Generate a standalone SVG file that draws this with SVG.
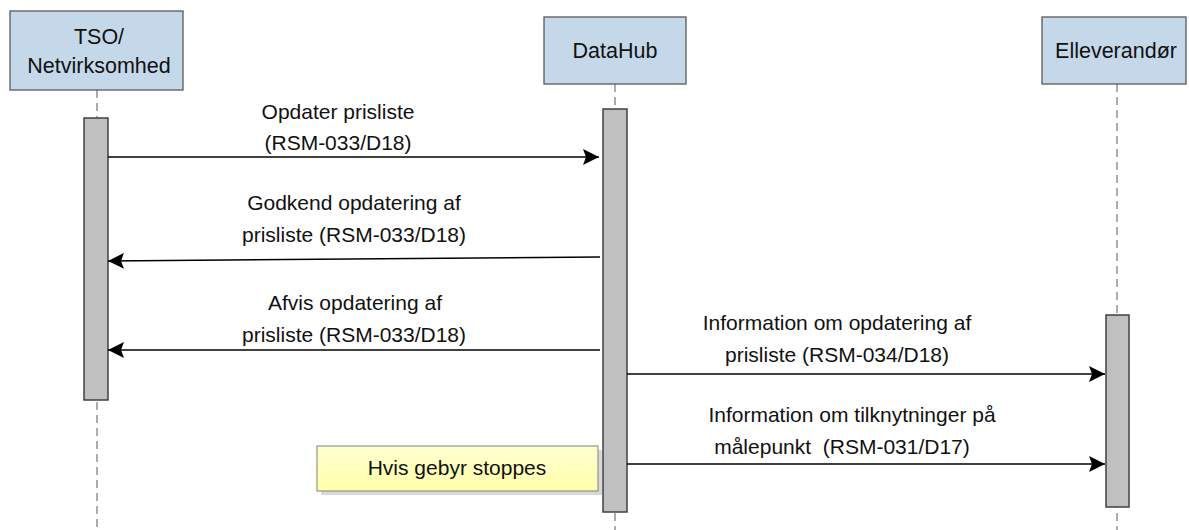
<svg xmlns="http://www.w3.org/2000/svg" width="1189" height="530" viewBox="0 0 1189 530">
<style>
.actor{fill:#c5d8ea;stroke:#595959;stroke-width:1.3}
.life{stroke:#808080;stroke-width:1.3;stroke-dasharray:8 5;fill:none}
.act{fill:#c0c0c0;stroke:#404040;stroke-width:1.5}
.msg{stroke:#000;stroke-width:1.6;fill:none;marker-end:url(#ah)}
text{font-family:"Liberation Sans",Arial,sans-serif;font-size:21px;fill:#111;text-anchor:middle}
.big{font-size:21.5px}
</style>
<defs>
<marker id="ah" markerWidth="18" markerHeight="16" refX="16" refY="8" orient="auto" markerUnits="userSpaceOnUse">
<path d="M0,0 L16,8 L0,16 L3,8 Z" fill="#000"/>
</marker>
<linearGradient id="ny" x1="0" y1="0" x2="0" y2="1">
<stop offset="0" stop-color="#ffffd2"/>
<stop offset="1" stop-color="#ffffa8"/>
</linearGradient>
</defs>
<g id="lifelines">
<line class="life" x1="97" y1="90" x2="97" y2="530"/>
<line class="life" x1="615" y1="84" x2="615" y2="530"/>
<line class="life" x1="1117" y1="84" x2="1117" y2="530"/>
</g>
<g id="tso">
<rect class="actor" x="10" y="11" width="173" height="79"/>
<text class="big" x="99" y="44">TSO/</text>
<text class="big" x="99" y="73">Netvirksomhed</text>
<rect class="act" x="84" y="118" width="24" height="282"/>
</g>
<g id="datahub">
<rect class="actor" x="544" y="17" width="142" height="67"/>
<text class="big" x="615" y="58">DataHub</text>
<rect class="act" x="603" y="109" width="24" height="403"/>
</g>
<g id="elleverandor">
<rect class="actor" x="1042" y="17" width="144" height="67"/>
<text class="big" x="1116" y="58">Elleverandør</text>
<rect class="act" x="1106" y="315" width="23" height="192"/>
</g>
<g id="note">
<rect x="321" y="450" width="281" height="45" fill="#d9d9d9"/>
<rect x="317" y="446" width="281" height="45" fill="url(#ny)" stroke="#808080" stroke-width="1"/>
<text x="457" y="475">Hvis gebyr stoppes</text>
</g>
<g id="connectors">
<line class="msg" x1="108" y1="157" x2="599" y2="157"/>
<line class="msg" x1="600" y1="257" x2="108" y2="261"/>
<line class="msg" x1="600" y1="350" x2="108" y2="350"/>
<line class="msg" x1="627" y1="374" x2="1105" y2="374"/>
<line class="msg" x1="627" y1="464" x2="1105" y2="464"/>
</g>
<g id="labels">
<text x="338" y="119">Opdater prisliste</text>
<text x="338" y="150">(RSM-033/D18)</text>
<text x="354" y="210">Godkend opdatering af</text>
<text x="354" y="242">prisliste (RSM-033/D18)</text>
<text x="355" y="310">Afvis opdatering af</text>
<text x="354" y="342">prisliste (RSM-033/D18)</text>
<text x="837" y="330">Information om opdatering af</text>
<text x="837" y="362">prisliste (RSM-034/D18)</text>
<text x="852" y="422">Information om tilknytninger på</text>
<text x="842" y="454" xml:space="preserve">målepunkt  (RSM-031/D17)</text>
</g>
</svg>
